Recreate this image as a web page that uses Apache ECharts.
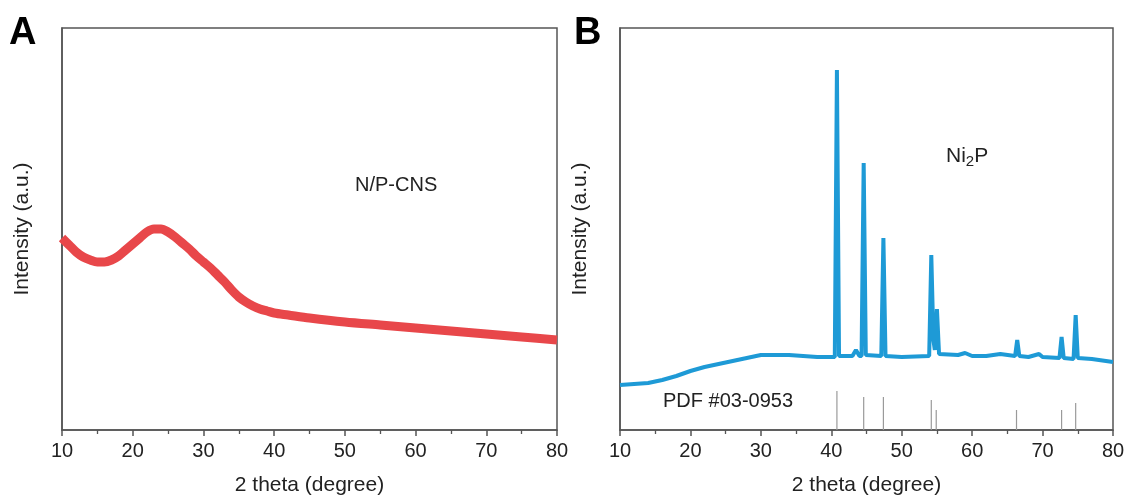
<!DOCTYPE html>
<html>
<head>
<meta charset="utf-8">
<script src="https://cdn.jsdelivr.net/npm/echarts@6/dist/echarts.min.js"></script>
<style>
  html, body { margin: 0; padding: 0; background: #fff; }
  #main { width: 1129px; height: 499px; }
</style>
</head>
<body>
<div id="main"></div>
<script>
// panel A: N/P-CNS pattern (2theta, intensity a.u.)
const cnsTheta = [10, 11, 12, 13, 14, 15, 16, 17, 18, 19, 20, 21, 22, 23, 24, 25, 26, 27, 28, 29, 30,
  31, 32, 33, 34, 35, 36, 37, 38, 39, 40, 42, 45, 50, 55, 60, 65, 70, 75, 80];
const cnsInt = [192, 185, 178, 173, 170, 168, 168, 170, 174, 180, 186, 192, 198, 201, 201, 198, 193, 187, 181, 174, 168,
  162, 155, 148, 140, 133, 128, 124, 121, 119, 117, 115, 112, 108, 105, 102, 99, 96, 93, 90];

// panel B: Ni2P pattern
const ni2pTheta = [10, 12, 14, 16, 18, 20, 22, 24, 26, 28, 30, 32, 34, 36, 38, 40, 40.5, 40.8, 41.1, 43.0, 43.5, 44.0,
  44.3, 44.6, 44.9, 47.1, 47.4, 47.7, 50, 53.9, 54.2, 54.5, 54.7, 55.0, 55.3, 58, 59, 60, 62, 64, 66.1, 66.4, 66.7,
  68, 69.5, 70, 72.4, 72.7, 73.0, 74.4, 74.7, 75.0, 77, 80];
const ni2pInt = [45, 46, 47, 50, 54, 59, 63, 66, 69, 72, 75, 75, 75, 74, 73, 73, 73, 360, 74, 74, 80, 74,
  74, 267, 75, 74, 192, 74, 73, 74, 175, 90, 80, 121, 76, 75, 77, 74, 74, 76, 74, 90, 74,
  73, 76, 73, 72, 93, 72, 71, 115, 72, 71, 68];

// PDF #03-0953 reference lines
const pdfTheta = [40.8, 44.6, 47.4, 54.2, 54.9, 66.3, 72.7, 74.7];
const pdfInt = [39, 33, 33, 30, 20, 20, 20, 27];

const xTicks = { min: 10, max: 80, interval: 10 };

const chart = echarts.init(document.getElementById("main"));

function xAxisFor(idx) {
  return {
    type: "value",
    gridIndex: idx,
    min: xTicks.min,
    max: xTicks.max,
    interval: xTicks.interval,
    name: "2 theta (degree)",
    nameLocation: "middle",
    nameGap: 45,
    nameTextStyle: { fontSize: 21, color: "#222", fontFamily: "Liberation Sans" },
    axisLine: { show: true, lineStyle: { color: "#555", width: 1.5 } },
    axisTick: { show: true, inside: false, length: 6, lineStyle: { color: "#555", width: 1.5 } },
    minorTick: { show: true, splitNumber: 2, length: 4, lineStyle: { color: "#555", width: 1.3 } },
    axisLabel: { fontSize: 20, color: "#222", margin: 11, fontFamily: "Liberation Sans" },
    splitLine: { show: false },
  };
}

function yAxisFor(idx) {
  return {
    type: "value",
    gridIndex: idx,
    min: 0,
    max: 402,
    name: "Intensity (a.u.)",
    nameLocation: "middle",
    nameRotate: 90,
    nameGap: 29,
    nameTextStyle: { fontSize: 21, color: "#222", fontFamily: "Liberation Sans" },
    axisLine: { show: true, lineStyle: { color: "#555", width: 1.5 } },
    axisTick: { show: false },
    axisLabel: { show: false },
    splitLine: { show: false },
  };
}

const option = {
  backgroundColor: "#fff",
  animation: false,
  grid: [
    { left: 62, top: 28, width: 495, height: 402, show: true, borderColor: "#555", borderWidth: 1.5, outerBoundsMode: "none" },
    { left: 620, top: 28, width: 493, height: 402, show: true, borderColor: "#555", borderWidth: 1.5, outerBoundsMode: "none" },
  ],
  xAxis: [xAxisFor(0), xAxisFor(1)],
  yAxis: [yAxisFor(0), yAxisFor(1)],
  series: [
    {
      name: "N/P-CNS",
      type: "line",
      xAxisIndex: 0,
      yAxisIndex: 0,
      data: cnsTheta.map((t, i) => [t, cnsInt[i]]),
      showSymbol: false,
      smooth: 0.3,
      lineStyle: { color: "#e8474a", width: 9 },
    },
    {
      name: "PDF #03-0953",
      type: "bar",
      xAxisIndex: 1,
      yAxisIndex: 1,
      barWidth: 1.2,
      data: pdfTheta.map((t, i) => [t, pdfInt[i]]),
      itemStyle: { color: "#9a9a9a" },
    },
    {
      name: "Ni2P",
      type: "line",
      xAxisIndex: 1,
      yAxisIndex: 1,
      data: ni2pTheta.map((t, i) => [t, ni2pInt[i]]),
      showSymbol: false,
      lineStyle: { color: "#1e9ad6", width: 4 },
    },
  ],
  graphic: [
    { type: "text", left: 9, top: 15, style: { text: "A", fontSize: 38, fontWeight: "bold", fill: "#000", fontFamily: "Liberation Sans" } },
    { type: "text", left: 574, top: 15, style: { text: "B", fontSize: 38, fontWeight: "bold", fill: "#000", fontFamily: "Liberation Sans" } },
    { type: "text", left: 355, top: 175, style: { text: "N/P-CNS", fontSize: 20, fill: "#222", fontFamily: "Liberation Sans" } },
    {
      type: "text", left: 946, top: 146,
      style: {
        text: "Ni{sub|2}P",
        fontSize: 21, fill: "#222", fontFamily: "Liberation Sans",
        rich: { sub: { fontSize: 15, fill: "#222", padding: [10, 0, 0, 0], fontFamily: "Liberation Sans" } },
      },
    },
    { type: "text", left: 663, top: 391, style: { text: "PDF #03-0953", fontSize: 20, fill: "#222", fontFamily: "Liberation Sans" } },
  ],
};

chart.setOption(option);
</script>
</body>
</html>
